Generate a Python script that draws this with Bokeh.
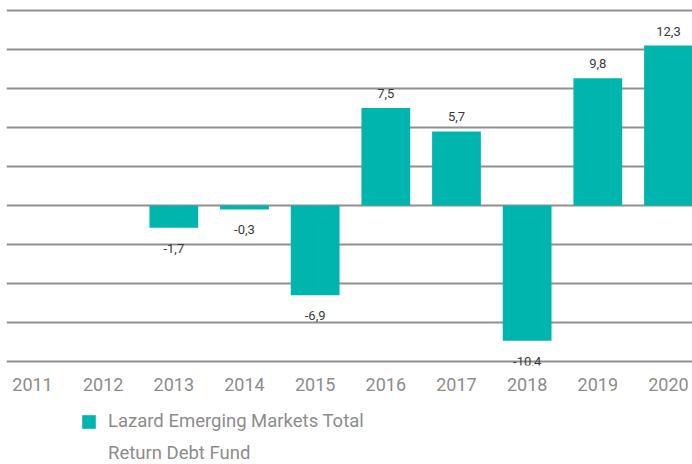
from bokeh.plotting import figure
from bokeh.layouts import column
from bokeh.models import ColumnDataSource, Range1d, FixedTicker, Legend, LegendItem
from bokeh.embed import file_html
from bokeh.resources import INLINE
from bokeh.core.properties import value

years = ["2011", "2012", "2013", "2014", "2015", "2016", "2017", "2018", "2019", "2020"]
returns = [None, None, -1.7, -0.3, -6.9, 7.5, 5.7, -10.4, 9.8, 12.3]
series_name_1 = "Lazard Emerging Markets Total"
series_name_2 = "Return Debt Fund"
grid_ticks = [-12, -9, -6, -3, 0, 3, 6, 9, 12, 15]

BAR = "#00b5ae"

xs, tops, labels, baselines, offsets = [], [], [], [], []
for i, v in enumerate(returns):
    if v is None:
        continue
    xs.append(i)
    tops.append(v)
    labels.append(f"{v:.1f}".replace(".", ","))
    baselines.append("bottom" if v >= 0 else "top")
    offsets.append(-10 if v >= 0 else 16)

src = ColumnDataSource(dict(x=xs, top=tops, label=labels, base=baselines, off=offsets))

p = figure(width=692, height=398, output_backend="svg", toolbar_location=None,
           x_range=Range1d(-0.368, 9.34), y_range=Range1d(-12.3, 15.77),
           min_border_left=6, min_border_right=0, min_border_top=0, min_border_bottom=33)
p.outline_line_color = None
p.background_fill_color = "white"
p.border_fill_color = "white"

p.vbar(x="x", top="top", bottom=0, width=0.69, source=src,
       fill_color=BAR, line_color=None)

p.text(x="x", y="top", text="label", source=src, text_align="center",
       text_baseline="base", y_offset="off", text_font=value("Roboto"),
       text_font_size="13px", text_color="#3a3a3a")

p.xgrid.visible = False
p.yaxis.visible = False
p.yaxis.ticker = FixedTicker(ticks=grid_ticks)
p.ygrid.ticker = FixedTicker(ticks=grid_ticks)
p.ygrid.grid_line_color = "#909090"
p.ygrid.grid_line_width = 1.8

ax = p.xaxis[0]
ax.ticker = FixedTicker(ticks=list(range(len(years))))
ax.major_label_overrides = {i: y for i, y in enumerate(years)}
ax.axis_line_color = None
ax.major_tick_line_color = None
ax.minor_tick_line_color = None
ax.major_tick_out = 0
ax.major_tick_in = 0
ax.major_label_standoff = 12
ax.major_label_text_font = "Roboto"
ax.major_label_text_font_size = "18px"
ax.major_label_text_color = "#8c8c8c"

# legend strip below the chart
p2 = figure(width=692, height=66, output_backend="svg", toolbar_location=None,
            x_range=Range1d(100, 101), y_range=Range1d(100, 101),
            min_border_left=0, min_border_right=0, min_border_top=0, min_border_bottom=0)
p2.axis.visible = False
p2.grid.visible = False
p2.outline_line_color = None
p2.background_fill_color = "white"
p2.border_fill_color = "white"
lr1 = p2.vbar(x="x", top="top", bottom=0, width=0.69, source=src,
              fill_color=BAR, line_color=None)
lr2 = p2.vbar(x="x", top="top", bottom=0, width=0.69, source=src,
              fill_alpha=0, line_alpha=0)

legend = Legend(items=[LegendItem(label=series_name_1, renderers=[lr1]),
                       LegendItem(label=series_name_2, renderers=[lr2])],
                location=(74, 0), orientation="vertical",
                padding=0, margin=0, spacing=10, border_line_color=None,
                background_fill_alpha=0, glyph_width=17, glyph_height=17,
                label_standoff=11, label_height=20,
                label_text_font="Roboto", label_text_font_size="18.5px",
                label_text_color="#8c8c8c")
p2.add_layout(legend, "center")

layout = column(p, p2, spacing=0)
open("out.html", "w").write(file_html(layout, INLINE))
